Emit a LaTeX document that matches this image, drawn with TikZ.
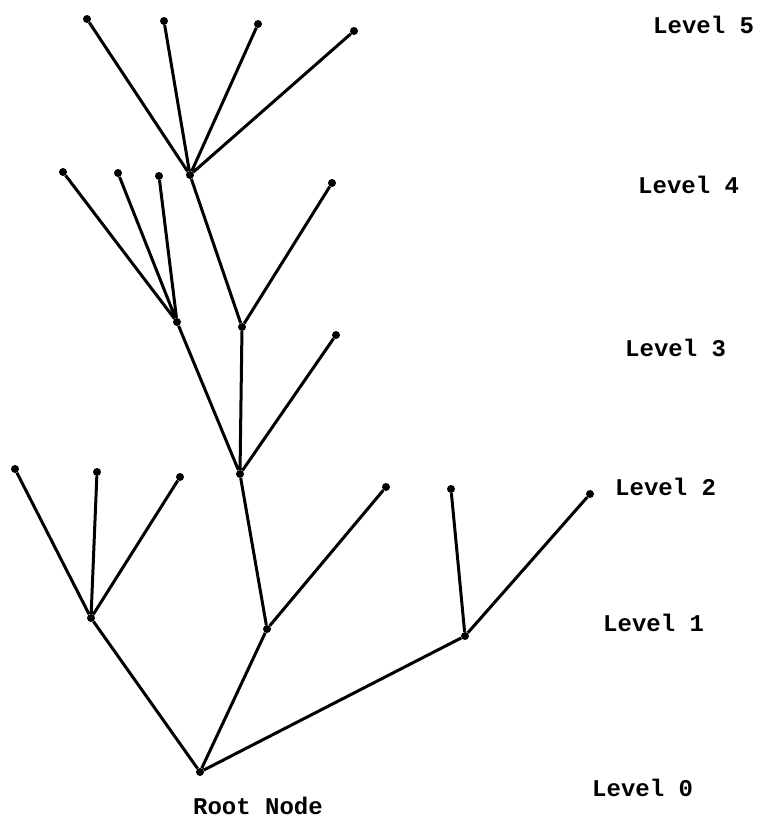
\documentclass[tikz,border=0pt]{standalone}
\usepackage{fontspec}
\setmonofont{Liberation Mono}
\begin{document}
\begin{tikzpicture}[x=1pt,y=-1pt,
  vtx/.style={circle,fill=black,inner sep=0pt,minimum size=8pt},
  edge/.style={line width=3pt},
  lvl/.style={font=\ttfamily\bfseries\fontsize{24}{26}\selectfont,anchor=west,inner sep=0pt}]
\useasboundingbox (0,0) rectangle (762,823);
% vertices
\node[vtx] (r)  at (200,772) {};
\node[vtx] (a)  at (91,618) {};
\node[vtx] (b)  at (267,629) {};
\node[vtx] (c)  at (465,636) {};
\node[vtx] (a1) at (15,469) {};
\node[vtx] (a2) at (97,472) {};
\node[vtx] (a3) at (180,477) {};
\node[vtx] (d)  at (240,474) {};
\node[vtx] (b2) at (386,487) {};
\node[vtx] (c1) at (451,489) {};
\node[vtx] (c2) at (590,494) {};
\node[vtx] (e)  at (177,322) {};
\node[vtx] (f)  at (242,327) {};
\node[vtx] (d3) at (336,335) {};
\node[vtx] (e1) at (63,172) {};
\node[vtx] (e2) at (118,173) {};
\node[vtx] (e3) at (159,176) {};
\node[vtx] (g)  at (190,175) {};
\node[vtx] (f2) at (332,183) {};
\node[vtx] (g1) at (87,19) {};
\node[vtx] (g2) at (164,21) {};
\node[vtx] (g3) at (258,24) {};
\node[vtx] (g4) at (354,31) {};
% edges
\draw[edge] (r) -- (a) (r) -- (b) (r) -- (c);
\draw[edge] (a) -- (a1) (a) -- (a2) (a) -- (a3);
\draw[edge] (b) -- (d) (b) -- (b2);
\draw[edge] (c) -- (c1) (c) -- (c2);
\draw[edge] (d) -- (e) (d) -- (f) (d) -- (d3);
\draw[edge] (e) -- (e1) (e) -- (e2) (e) -- (e3);
\draw[edge] (f) -- (g) (f) -- (f2);
\draw[edge] (g) -- (g1) (g) -- (g2) (g) -- (g3) (g) -- (g4);
% level labels
\node[lvl] (l5) at (653,25) {Level 5};
\node[lvl] (l4) at (638,185) {Level 4};
\node[lvl] (l3) at (625,348) {Level 3};
\node[lvl] (l2) at (615,487) {Level 2};
\node[lvl] (l1) at (603,623) {Level 1};
\node[lvl] (l0) at (592,788) {Level 0};
\node[font=\ttfamily\bfseries\fontsize{24}{26}\selectfont,inner sep=0pt] (rn) at (258,806) {Root Node};
\end{tikzpicture}
\end{document}
